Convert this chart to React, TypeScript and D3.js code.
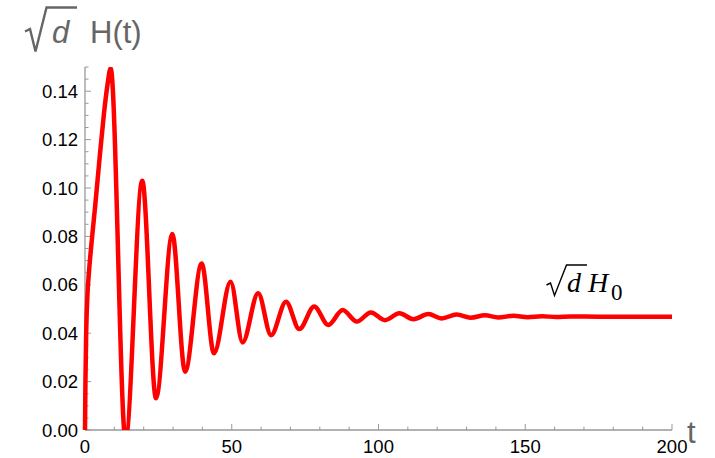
import React from 'react';
import * as d3 from 'd3';

// values (t, sqrt(d) H(t)) at the turning points
const tValues = [
  0, 0.15, 0.4, 0.8, 1.4, 2.2, 3.5, 5.1, 6.4, 7.7, 8.75,
  13.8, 19.5, 24.2, 29.75, 34.1, 39.75, 43.95, 49.6, 53.7, 59.0,
  63.4, 68.5, 73.0, 78.1, 82.9, 87.8, 92.6, 97.4, 102.2, 107.1,
  111.9, 117.0, 121.5, 126.6, 131.4, 136.3, 140.8, 146, 150.8, 155.7,
  160.5, 165.5, 175, 200,
];
const hValues = [
  0, 0.02, 0.04, 0.055, 0.066, 0.077, 0.093, 0.114, 0.13, 0.143, 0.1495,
  -0.004, 0.103, 0.0131, 0.081, 0.0241, 0.0688, 0.0317, 0.0613, 0.0362, 0.0565,
  0.0392, 0.053, 0.0417, 0.051, 0.0434, 0.0496, 0.0448, 0.0486, 0.0454, 0.0482,
  0.0458, 0.0479, 0.0461, 0.0477, 0.0464, 0.0474, 0.0465, 0.0472, 0.0466, 0.047,
  0.0467, 0.0469, 0.0468, 0.0468,
];
const xTicks = [0, 50, 100, 150, 200];
const yTicks = [0, 0.02, 0.04, 0.06, 0.08, 0.1, 0.12, 0.14];

const W = 715;
const H = 458;
const left = 85;
const right = 672;
const top = 67;
const bottom = 430;

const axisColor = '#999999';
const titleColor = '#666666';
const sans = '"Liberation Sans", Arial, sans-serif';
const serif = '"Liberation Serif", "Times New Roman", serif';

const App = () => {
  const x = d3.scaleLinear().domain([0, 200]).range([left, right]);
  const y = d3.scaleLinear().domain([0, 0.15]).range([bottom, top]);

  const points = tValues.map((t, i) => [t, hValues[i]] as [number, number]);
  const line = d3.line<[number, number]>()
    .x(d => x(d[0]))
    .y(d => y(d[1]))
    .curve(d3.curveMonotoneX);

  const xMinor = d3.range(0, 201, 10).filter(v => v % 50 !== 0);
  const yMinor = d3.range(0, 0.1501, 0.005).filter(v => Math.round(v * 1000) % 20 !== 0);

  return (
    <svg width={W} height={H} style={{ position: 'absolute', left: 0, top: 0, background: '#fff' }}>
      <defs>
        <clipPath id="plotClip">
          <rect x={left - 5} y={top} width={right - left + 10} height={bottom - top} />
        </clipPath>
      </defs>

      {/* axes */}
      <line x1={left} x2={right} y1={bottom} y2={bottom} stroke={axisColor} strokeWidth={1.3} />
      <line x1={left} x2={left} y1={top} y2={bottom} stroke={axisColor} strokeWidth={1.3} />

      {xTicks.map(v => (
        <g key={'xt' + v}>
          <line x1={x(v)} x2={x(v)} y1={bottom} y2={bottom - 6} stroke={axisColor} strokeWidth={1} />
          <text x={x(v)} y={bottom + 23} textAnchor="middle" fontFamily={sans} fontSize={18.5} fill="#000">{v}</text>
        </g>
      ))}
      {xMinor.map(v => (
        <line key={'xm' + v} x1={x(v)} x2={x(v)} y1={bottom} y2={bottom - 3.5} stroke={axisColor} strokeWidth={1} />
      ))}

      {yTicks.map(v => (
        <g key={'yt' + v}>
          <line x1={left} x2={left + 6} y1={y(v)} y2={y(v)} stroke={axisColor} strokeWidth={1} />
          <text x={left - 7} y={y(v) + 6.5} textAnchor="end" fontFamily={sans} fontSize={18.5} fill="#000">{v.toFixed(2)}</text>
        </g>
      ))}
      {yMinor.map(v => (
        <line key={'ym' + v} x1={left} x2={left + 3.5} y1={y(v)} y2={y(v)} stroke={axisColor} strokeWidth={1} />
      ))}

      {/* curve */}
      <path d={line(points) || ''} fill="none" stroke="#ff0000" strokeWidth={4.5}
        strokeLinejoin="round" clipPath="url(#plotClip)" />

      {/* y title: radical sign drawn, letters as text */}
      <path d="M25,31.5 L30,29 L35.5,51.5 L46.5,7.5 L77,7.5" fill="none" stroke={titleColor}
        strokeWidth={2.4} strokeLinejoin="miter" />
      <text x={52} y={43} fontFamily={sans} fontStyle="italic" fontSize={31} fill={titleColor}>d</text>
      <text x={90} y={42.5} fontFamily={sans} fontSize={31} fill={titleColor}>H(t)</text>

      {/* x title */}
      <text x={687} y={442.5} fontFamily={sans} fontSize={31} fill={titleColor}>t</text>

      {/* steady-state label */}
      <path d="M546.5,285 L550.5,283 L554.5,295.5 L566.5,265 L587,265" fill="none" stroke="#000"
        strokeWidth={1.4} strokeLinejoin="miter" />
      <text x={567} y={291.5} fontFamily={serif} fontStyle="italic" fontSize={28} fill="#000">d</text>
      <text x={588} y={291.5} fontFamily={serif} fontStyle="italic" fontSize={28} fill="#000">H</text>
      <text x={611} y={299.5} fontFamily={serif} fontSize={23} fill="#000">0</text>
    </svg>
  );
};

export default App;
